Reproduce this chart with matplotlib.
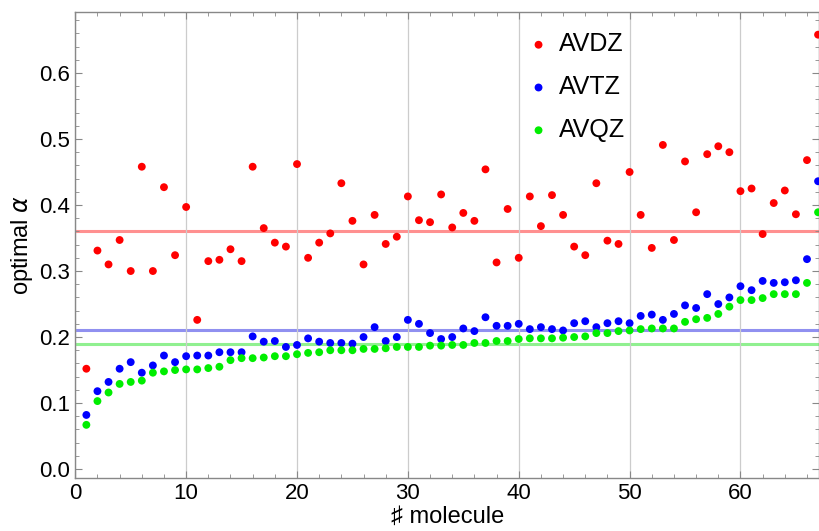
import matplotlib
matplotlib.use("Agg")
import matplotlib.pyplot as plt
from matplotlib.ticker import MultipleLocator

plt.rcParams['font.family'] = ['Liberation Sans', 'DejaVu Sans']

molecules = list(range(1, 68))

avdz = [0.152, 0.331, 0.310, 0.347, 0.300, 0.458, 0.300, 0.427, 0.324, 0.397,
        0.226, 0.315, 0.317, 0.333, 0.315, 0.458, 0.365, 0.343, 0.337, 0.462,
        0.320, 0.343, 0.357, 0.433, 0.376, 0.310, 0.385, 0.341, 0.352, 0.413,
        0.377, 0.374, 0.416, 0.366, 0.388, 0.376, 0.454, 0.313, 0.394, 0.320,
        0.413, 0.368, 0.415, 0.385, 0.337, 0.324, 0.433, 0.346, 0.341, 0.450,
        0.385, 0.335, 0.491, 0.347, 0.466, 0.389, 0.477, 0.489, 0.480, 0.421,
        0.425, 0.356, 0.403, 0.422, 0.386, 0.468, 0.658]

avtz = [0.082, 0.118, 0.132, 0.152, 0.162, 0.146, 0.157, 0.172, 0.162, 0.171,
        0.172, 0.172, 0.177, 0.177, 0.177, 0.201, 0.193, 0.194, 0.185, 0.188,
        0.198, 0.193, 0.191, 0.191, 0.190, 0.200, 0.215, 0.194, 0.200, 0.226,
        0.220, 0.206, 0.197, 0.200, 0.213, 0.209, 0.230, 0.217, 0.217, 0.220,
        0.212, 0.215, 0.212, 0.210, 0.221, 0.224, 0.215, 0.221, 0.224, 0.221,
        0.232, 0.234, 0.226, 0.235, 0.248, 0.244, 0.265, 0.250, 0.260, 0.277,
        0.271, 0.285, 0.282, 0.283, 0.286, 0.318, 0.436]

avqz = [0.067, 0.103, 0.116, 0.129, 0.132, 0.134, 0.146, 0.148, 0.150, 0.151,
        0.151, 0.153, 0.155, 0.165, 0.168, 0.168, 0.169, 0.171, 0.171, 0.174,
        0.176, 0.177, 0.180, 0.180, 0.180, 0.182, 0.182, 0.183, 0.185, 0.185,
        0.185, 0.187, 0.187, 0.188, 0.188, 0.191, 0.191, 0.194, 0.194, 0.197,
        0.198, 0.198, 0.198, 0.199, 0.200, 0.201, 0.206, 0.206, 0.209, 0.210,
        0.212, 0.213, 0.213, 0.213, 0.223, 0.227, 0.229, 0.235, 0.246, 0.256,
        0.256, 0.259, 0.265, 0.265, 0.265, 0.282, 0.389]

series_names = ["AVDZ", "AVTZ", "AVQZ"]
mean_lines = [0.360, 0.210, 0.190]
colors = ["#ff0000", "#0000ff", "#00ee00"]
line_colors = ["#ff9090", "#9090f0", "#90f090"]

fig = plt.figure(figsize=(8.2, 5.31), dpi=100)
ax = fig.add_axes([0.0918, 0.0992, 0.9072, 0.879])

for val, lc in zip(mean_lines, line_colors):
    ax.axhline(val, color=lc, lw=2.2, zorder=1)

for data, c, name in zip([avdz, avtz, avqz], colors, series_names):
    ax.scatter(molecules, data, s=32, color=c, edgecolors='none', zorder=3, label=name)

ax.set_xlim(0, 67.1)
ax.set_ylim(-0.014, 0.693)
ax.xaxis.set_major_locator(MultipleLocator(10))
ax.xaxis.set_minor_locator(MultipleLocator(2))
ax.yaxis.set_major_locator(MultipleLocator(0.1))
ax.yaxis.set_minor_locator(MultipleLocator(0.02))
ax.yaxis.set_major_formatter(matplotlib.ticker.FormatStrFormatter('%.1f'))

ax.grid(axis='x', which='major', color='#cccccc', lw=0.9, zorder=0)

for s in ax.spines.values():
    s.set_color('#888888')
    s.set_linewidth(1.0)

ax.tick_params(which='both', direction='in', top=True, right=True, color='#888888',
               labelsize=16, labelcolor='black')
ax.tick_params(which='major', length=5)
ax.tick_params(which='minor', length=3)

ax.set_xlabel('\u266f molecule', fontsize=17, labelpad=1)
ax.set_ylabel('optimal $\\alpha$', fontsize=17, labelpad=3)

leg = ax.legend(loc='upper left', bbox_to_anchor=(0.5925, 0.977), frameon=False,
                fontsize=18, handlelength=1.0, handletextpad=0.3, labelspacing=0.75,
                scatterpoints=1, borderaxespad=0)

fig.savefig('out.png', dpi=100)
